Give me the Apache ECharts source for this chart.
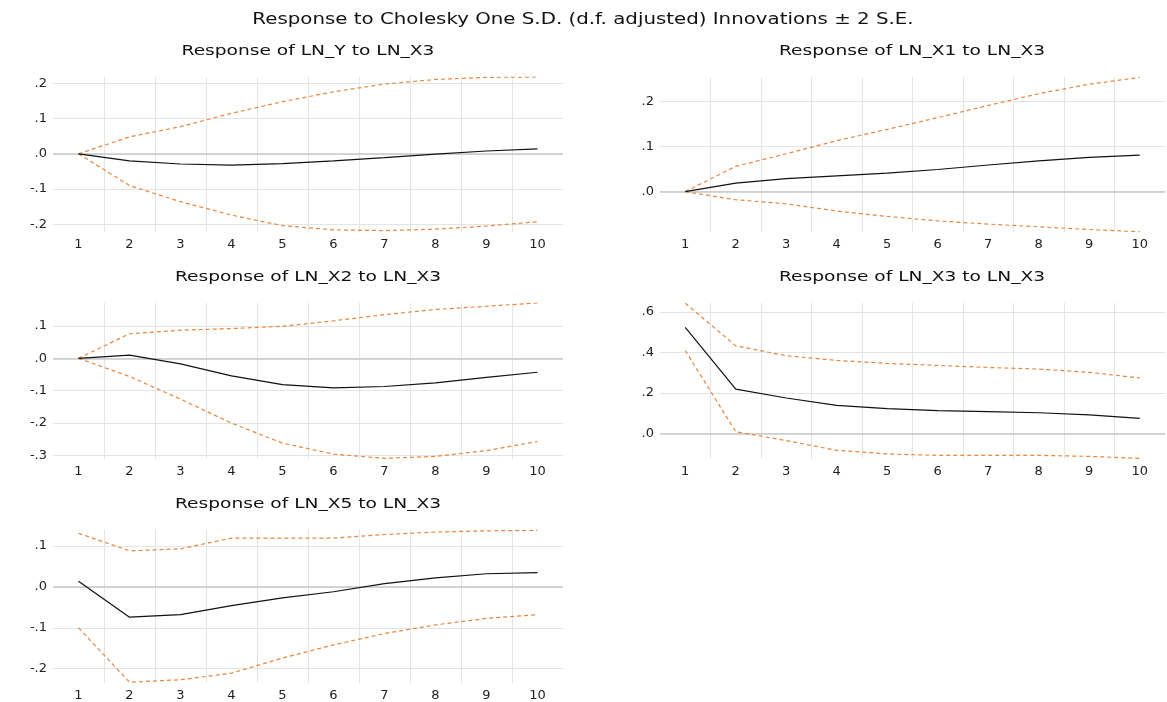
<!DOCTYPE html>
<html>
<head>
<meta charset="utf-8">
<script src="https://cdn.jsdelivr.net/npm/echarts@6/dist/echarts.min.js"></script>
<style>
html,body{margin:0;padding:0;background:#fff;}
#c{width:1167px;height:702px;}
</style>
</head>
<body>
<div id="c"></div>
<script>
// ---- data ----
const periods = ['1','2','3','4','5','6','7','8','9','10'];

const mainTitle = 'Response to Cholesky One S.D. (d.f. adjusted) Innovations \u00b1 2 S.E.';
const panelTitles = [
  'Response of LN_Y to LN_X3',
  'Response of LN_X1 to LN_X3',
  'Response of LN_X2 to LN_X3',
  'Response of LN_X3 to LN_X3',
  'Response of LN_X5 to LN_X3'
];

const lnY_resp  = [0, -0.020, -0.029, -0.032, -0.028, -0.020, -0.011, -0.001, 0.008, 0.014];
const lnY_upper = [0, 0.048, 0.077, 0.115, 0.148, 0.176, 0.198, 0.211, 0.217, 0.218];
const lnY_lower = [0, -0.090, -0.136, -0.174, -0.204, -0.216, -0.218, -0.214, -0.205, -0.193];

const lnX1_resp  = [0, 0.019, 0.029, 0.035, 0.041, 0.049, 0.059, 0.068, 0.076, 0.081];
const lnX1_upper = [0, 0.056, 0.084, 0.113, 0.138, 0.164, 0.191, 0.217, 0.238, 0.253];
const lnX1_lower = [0, -0.018, -0.027, -0.043, -0.055, -0.065, -0.072, -0.078, -0.084, -0.089];

const lnX2_resp  = [0, 0.010, -0.017, -0.054, -0.081, -0.091, -0.087, -0.076, -0.059, -0.043];
const lnX2_upper = [0, 0.076, 0.087, 0.092, 0.099, 0.116, 0.135, 0.151, 0.161, 0.171];
const lnX2_lower = [0, -0.056, -0.126, -0.200, -0.262, -0.296, -0.309, -0.303, -0.285, -0.257];

const lnX3_resp  = [0.524, 0.219, 0.175, 0.138, 0.122, 0.112, 0.107, 0.102, 0.091, 0.074];
const lnX3_upper = [0.644, 0.433, 0.384, 0.361, 0.346, 0.336, 0.326, 0.318, 0.302, 0.274];
const lnX3_lower = [0.410, 0.008, -0.036, -0.084, -0.102, -0.109, -0.109, -0.109, -0.114, -0.124];

const lnX5_resp  = [0.014, -0.074, -0.068, -0.046, -0.027, -0.012, 0.008, 0.022, 0.032, 0.035];
const lnX5_upper = [0.131, 0.088, 0.093, 0.119, 0.119, 0.119, 0.128, 0.134, 0.137, 0.138];
const lnX5_lower = [-0.100, -0.233, -0.227, -0.211, -0.174, -0.142, -0.114, -0.093, -0.077, -0.068];

// axis extents and tick steps per panel
const yMins  = [-0.222, -0.0895, -0.311, -0.127, -0.235];
const yMaxs  = [0.218, 0.254, 0.171, 0.645, 0.139];
const ySteps = [0.1, 0.1, 0.1, 0.2, 0.1];

// ---- layout ----
const panels = [
  {resp: lnY_resp,  up: lnY_upper,  lo: lnY_lower,  grid: {left: 53,  top: 77,  width: 510, height: 155}, tx: 308, ty: 51},
  {resp: lnX1_resp, up: lnX1_upper, lo: lnX1_lower, grid: {left: 660, top: 77,  width: 505, height: 155}, tx: 912, ty: 51},
  {resp: lnX2_resp, up: lnX2_upper, lo: lnX2_lower, grid: {left: 53,  top: 303, width: 510, height: 156}, tx: 308, ty: 277},
  {resp: lnX3_resp, up: lnX3_upper, lo: lnX3_lower, grid: {left: 660, top: 303, width: 505, height: 156}, tx: 912, ty: 277},
  {resp: lnX5_resp, up: lnX5_upper, lo: lnX5_lower, grid: {left: 53,  top: 530, width: 510, height: 155}, tx: 308, ty: 504}
];

const FONT = '"DejaVu Sans", Verdana, sans-serif';
const ORANGE = '#e8873f';
const grids = [], xAxes = [], yAxes = [], series = [], graphics = [];

graphics.push({
  type: 'text', x: 583, y: 20, scaleX: 1.32,
  style: {text: mainTitle, font: '15px ' + FONT, fill: '#111', textAlign: 'center', textVerticalAlign: 'middle'}
});

panels.forEach((p, i) => {
  grids.push(Object.assign({containLabel: false}, p.grid));
  graphics.push({
    type: 'text', x: p.tx, y: p.ty, scaleX: 1.33,
    style: {text: panelTitles[i], font: '14px ' + FONT, fill: '#111', textAlign: 'center', textVerticalAlign: 'middle'}
  });
  xAxes.push({
    type: 'category', gridIndex: i, data: periods, boundaryGap: true,
    axisLine: {show: false}, axisTick: {show: false},
    axisLabel: {color: '#222', fontSize: 13, fontFamily: FONT, margin: 6, interval: 0},
    splitLine: {show: true, interval: 0, showMinLine: false, showMaxLine: false, lineStyle: {color: '#e4e4e4', width: 1}}
  });
  const step = ySteps[i];
  yAxes.push({
    type: 'value', gridIndex: i, min: yMins[i], max: yMaxs[i],
    splitNumber: 5, minInterval: step, maxInterval: step,
    axisLine: {show: false}, axisTick: {show: false},
    axisLabel: {
      color: '#222', fontSize: 13, fontFamily: FONT, margin: 6,
      showMinLabel: false, showMaxLabel: false,
      formatter: function (v) {
        if (Math.abs(v / step - Math.round(v / step)) > 1e-6) return '';
        let s = (Math.round(v * 10) / 10).toFixed(1);
        if (s === '-0.0') s = '0.0';
        return s.replace(/^(-?)0\./, '$1.');
      }
    },
    splitLine: {show: true, showMinLine: false, showMaxLine: false, lineStyle: {color: '#e4e4e4', width: 1}}
  });
  series.push({
    type: 'line', xAxisIndex: i, yAxisIndex: i, data: p.up, symbol: 'none', silent: true,
    lineStyle: {color: ORANGE, width: 1.2, type: [4, 3]}, z: 3
  });
  series.push({
    type: 'line', xAxisIndex: i, yAxisIndex: i, data: p.lo, symbol: 'none', silent: true,
    lineStyle: {color: ORANGE, width: 1.2, type: [4, 3]}, z: 3
  });
  series.push({
    type: 'line', xAxisIndex: i, yAxisIndex: i, data: p.resp, symbol: 'none', silent: true,
    lineStyle: {color: '#111', width: 1.2}, z: 4,
    markLine: {
      silent: true, symbol: 'none', label: {show: false}, z: 2,
      lineStyle: {color: '#c8c8c8', width: 1.5, type: 'solid'},
      data: [{yAxis: 0}]
    }
  });
});

const chart = echarts.init(document.getElementById('c'), null, {renderer: 'canvas'});
chart.setOption({
  animation: false,
  backgroundColor: '#ffffff',
  grid: grids, xAxis: xAxes, yAxis: yAxes, series: series, graphic: graphics
});
</script>
</body>
</html>
